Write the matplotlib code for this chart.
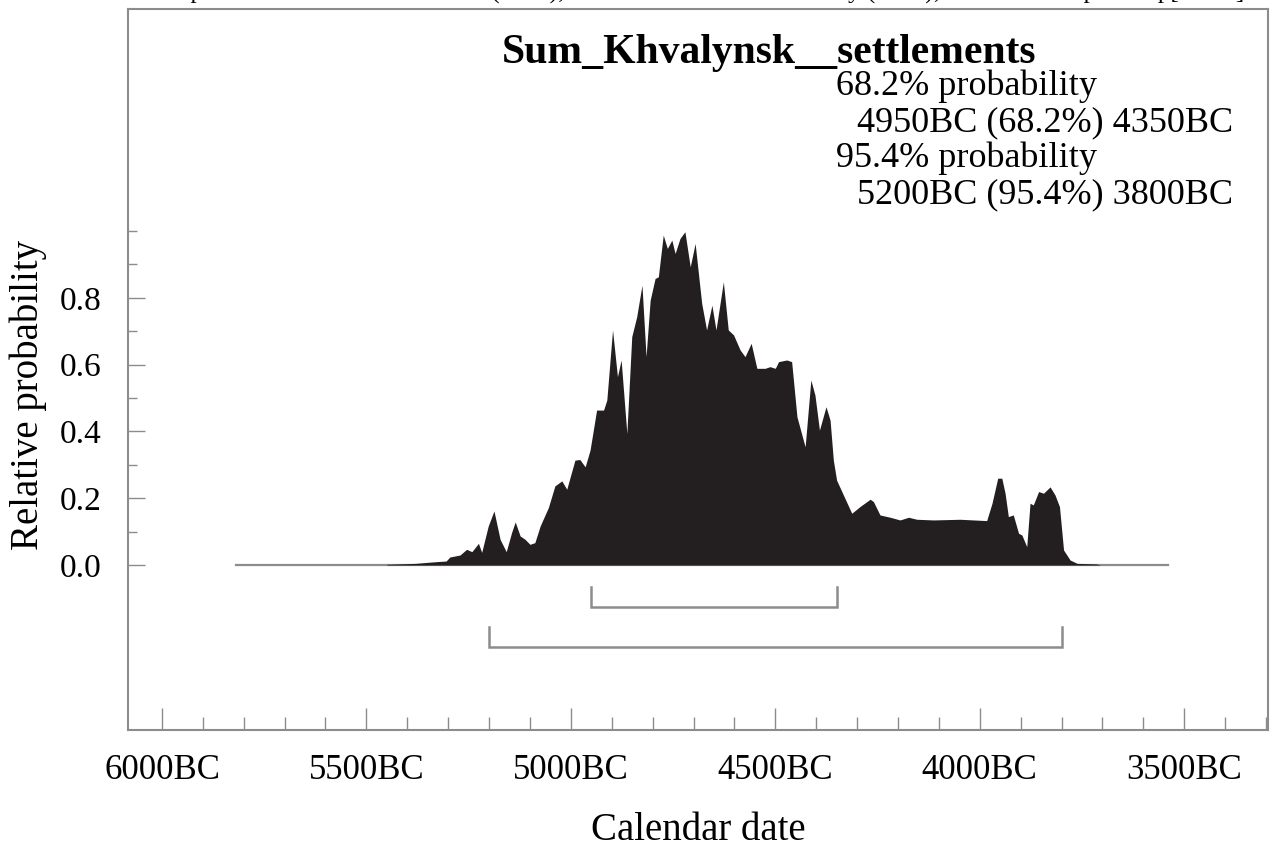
import matplotlib
matplotlib.use("Agg")
import matplotlib.pyplot as plt
from matplotlib.ticker import MultipleLocator, FixedLocator, FuncFormatter

plt.rcParams['font.family'] = ['Liberation Serif', 'DejaVu Serif']

# summed probability (years BC, relative probability)
years_bc = [5450, 5380, 5330, 5305, 5296, 5271, 5255, 5242, 5226, 5218, 5202, 5188,
            5173, 5158, 5145, 5136, 5124, 5112, 5100, 5088, 5075, 5055, 5039, 5022,
            5010, 4990, 4978, 4965, 4953, 4937, 4920, 4912, 4898, 4886, 4877, 4863,
            4851, 4839, 4826, 4816, 4806, 4794, 4786, 4774, 4764, 4753, 4745, 4733,
            4721, 4708, 4696, 4680, 4668, 4655, 4645, 4627, 4615, 4602, 4586, 4574,
            4559, 4545, 4525, 4513, 4500, 4492, 4472, 4460, 4447, 4427, 4413, 4403,
            4392, 4376, 4366, 4358, 4350, 4313, 4293, 4268, 4260, 4244, 4219, 4195,
            4174, 4154, 4113, 4048, 4015, 3983, 3970, 3956, 3946, 3938, 3930, 3918,
            3905, 3897, 3885, 3877, 3869, 3856, 3844, 3828, 3816, 3805, 3795, 3779,
            3762, 3714, 3705]
prob = [0.002, 0.005, 0.01, 0.012, 0.024, 0.03, 0.047, 0.04, 0.065, 0.038, 0.117, 0.162,
        0.077, 0.04, 0.097, 0.129, 0.087, 0.077, 0.062, 0.067, 0.117, 0.172, 0.237, 0.252,
        0.227, 0.314, 0.316, 0.294, 0.344, 0.464, 0.464, 0.494, 0.704, 0.564, 0.614, 0.394,
        0.684, 0.743, 0.838, 0.624, 0.793, 0.858, 0.863, 0.988, 0.948, 0.973, 0.933, 0.978,
        0.998, 0.893, 0.963, 0.784, 0.704, 0.778, 0.704, 0.848, 0.704, 0.689, 0.644, 0.624,
        0.664, 0.589, 0.589, 0.594, 0.589, 0.609, 0.614, 0.609, 0.444, 0.354, 0.554, 0.509,
        0.404, 0.474, 0.434, 0.314, 0.254, 0.155, 0.175, 0.197, 0.19, 0.15, 0.143, 0.135,
        0.143, 0.137, 0.135, 0.137, 0.135, 0.133, 0.185, 0.26, 0.26, 0.215, 0.145, 0.15,
        0.095, 0.09, 0.055, 0.185, 0.18, 0.22, 0.215, 0.234, 0.21, 0.175, 0.045, 0.015,
        0.005, 0.003, 0.0]

plot_span = [5820, 3540]     # baseline extent
range_68 = [4950, 4350]
range_95 = [5200, 3800]

header = "Atmospheric data from Reimer et al (2013); OxCal v4.2.4 Bronk Ramsey (2013); cub r:5 sd:12 prob usp[chron]"
title = "Sum_Khvalynsk__settlements"
summary = ["68.2% probability", "4950BC (68.2%) 4350BC",
           "95.4% probability", "5200BC (95.4%) 3800BC"]

grey = '#8c8c8c'
dark = '#231f20'

fig = plt.figure(figsize=(12.82, 8.5), dpi=100)
ax = fig.add_axes([128 / 1282, 1 - 730 / 850, 1140 / 1282, 721 / 850])

# curve
ax.plot(plot_span, [0, 0], color=grey, lw=1.6, zorder=1)
ax.fill_between(years_bc, prob, 0, color=dark, lw=0, zorder=2)

# probability ranges
for rng, lev in [(range_68, -0.126), (range_95, -0.246)]:
    ax.plot([rng[0], rng[0], rng[1], rng[1]], [lev + 0.06, lev, lev, lev + 0.06],
            color=grey, lw=1.8, solid_joinstyle='miter')

# axes
ax.set_xlim(6083, 3295)
ax.set_ylim(-0.494, 1.665)
ax.xaxis.set_major_locator(MultipleLocator(500))
ax.xaxis.set_minor_locator(MultipleLocator(100))
ax.xaxis.set_major_formatter(FuncFormatter(lambda v, p: f"{int(round(v))}BC"))
ax.yaxis.set_major_locator(FixedLocator([0.0, 0.2, 0.4, 0.6, 0.8]))
ax.yaxis.set_minor_locator(FixedLocator([0.1, 0.3, 0.5, 0.7, 0.9, 1.0]))
ax.yaxis.set_major_formatter(FuncFormatter(lambda v, p: f"{v:.1f}"))

ax.tick_params(axis='x', which='major', direction='in', length=15.8, width=1.0,
               color=grey, labelsize=25, pad=17)
ax.tick_params(axis='x', which='minor', direction='in', length=9.4, width=1.0, color=grey)
ax.tick_params(axis='y', which='major', direction='in', length=12, width=1.0,
               color=grey, labelsize=24, pad=19)
ax.tick_params(axis='y', which='minor', direction='in', length=6.5, width=1.0, color=grey)
for s in ax.spines.values():
    s.set_color(grey)
    s.set_linewidth(1.5)

ax.set_xlabel("Calendar date", fontsize=28, va='center')
ax.xaxis.set_label_coords(0.5, -0.1387)
ax.set_ylabel("Relative probability", fontsize=28, va='center')
ax.yaxis.set_label_coords(-0.0877, 0.464)

ax.text(0.5623, 0.9385, title, transform=ax.transAxes, ha='center', va='center',
        fontsize=30, fontweight='bold')
xs = [0.621, 0.6395, 0.621, 0.6395]
ys = [0.8926, 0.8427, 0.7927, 0.7428]
for s, xx, yy in zip(summary, xs, ys):
    ax.text(xx, yy, s, transform=ax.transAxes, ha='left', va='center', fontsize=26)

# header line, mostly cut off by the top edge
fig.text(124 / 1282, 1 + 1 / 850, header, ha='left', va='baseline', fontsize=18)

fig.savefig("out.png", dpi=100)
